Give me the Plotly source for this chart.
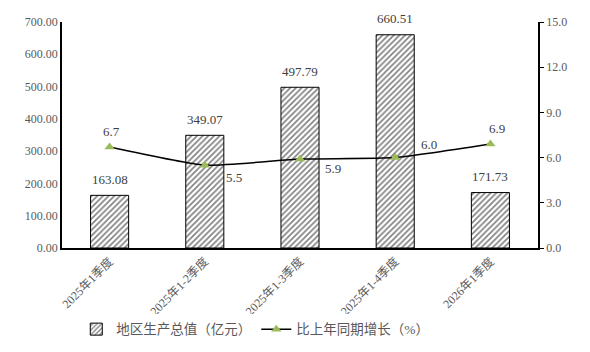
import plotly.graph_objects as go

categories = ["2025年1季度", "2025年1-2季度", "2025年1-3季度", "2025年1-4季度", "2026年1季度"]
gdp = [163.08, 349.07, 497.79, 660.51, 171.73]
growth = [6.7, 5.5, 5.9, 6.0, 6.9]
gdp_name = "地区生产总值（亿元）"
growth_name = "比上年同期增长（%）"

serif = "Liberation Serif, Noto Sans CJK SC, serif"
grey = "#595959"
label_col = "#404040"

fig = go.Figure()
fig.add_trace(go.Bar(
    x=categories, y=gdp, name=gdp_name, width=0.4,
    marker=dict(color="white", line=dict(color="black", width=1),
                pattern=dict(shape="/", fgcolor="black", bgcolor="white", size=4, solidity=0.4)),
))
fig.add_trace(go.Scatter(
    x=categories, y=growth, name=growth_name, yaxis="y2", mode="lines+markers",
    line=dict(color="black", width=1.5, shape="spline", smoothing=0.5),
    marker=dict(symbol="triangle-up", size=9, color="#9BBB59"),
))

for c, v in zip(categories, gdp):
    fig.add_annotation(x=c, y=v, text=f"{v:.2f}", showarrow=False, yshift=16,
                       font=dict(family=serif, size=13, color=label_col))

offsets = [(2, 16), (29, -12), (33, -9), (34, 13), (7, 16)]
for c, v, (dx, dy) in zip(categories, growth, offsets):
    fig.add_annotation(x=c, y=v, yref="y2", text=f"{v:.1f}", showarrow=False,
                       xshift=dx, yshift=dy,
                       font=dict(family=serif, size=13, color=label_col))

fig.update_layout(
    width=590, height=352, margin=dict(l=62, r=52, t=22, b=104, autoexpand=False),
    plot_bgcolor="white", paper_bgcolor="white",
    bargap=0.6,
    xaxis=dict(showline=True, linecolor="black", linewidth=1.5, ticks="", tickangle=-45,
               tickfont=dict(family=serif, size=12, color=grey), automargin=False),
    yaxis=dict(range=[0, 700], dtick=100, tickformat=".2f", showgrid=False, zeroline=False,
               showline=True, linecolor="black", linewidth=1.5, ticks="", automargin=False,
               tickfont=dict(family=serif, size=12, color=grey)),
    yaxis2=dict(range=[0, 15], dtick=3, tickformat=".1f", overlaying="y", side="right",
                showgrid=False, zeroline=False, showline=True, linecolor="black", linewidth=1.5,
                ticks="outside", ticklen=4, tickcolor="black", automargin=False,
                tickfont=dict(family=serif, size=12, color=grey)),
    legend=dict(orientation="h", x=0.03, xanchor="left", y=-0.36, yanchor="middle",
                font=dict(family=serif, size=13.5, color=grey), itemwidth=30,
                tracegroupgap=0),
    showlegend=True,
)

fig.write_html("out.html")
